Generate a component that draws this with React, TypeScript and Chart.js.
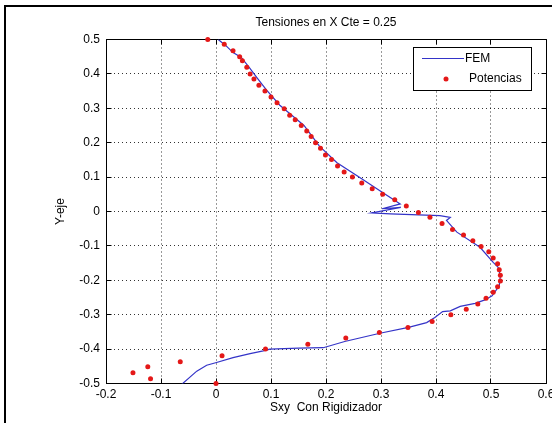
import { useEffect, useRef } from "react";
import { Chart, registerables } from "chart.js";

Chart.register(...registerables);

const TITLE = "Tensiones en X Cte = 0.25";
const X_TITLE = "Sxy  Con Rigidizador";
const Y_TITLE = "Y-eje";

const X_TICKS = [-0.2, -0.1, 0, 0.1, 0.2, 0.3, 0.4, 0.5, 0.6];
const Y_TICKS = [-0.5, -0.4, -0.3, -0.2, -0.1, 0, 0.1, 0.2, 0.3, 0.4, 0.5];

const FEM_X = [
  0.004, 0.018, 0.031, 0.046, 0.06, 0.075, 0.092, 0.116, 0.134, 0.16, 0.188, 0.22, 0.26,
  0.298, 0.335, 0.302, 0.336, 0.283, 0.317, 0.407, 0.426, 0.419, 0.438, 0.48, 0.504,
  0.513, 0.517, 0.515, 0.502, 0.489, 0.471, 0.444, 0.426, 0.412, 0.398, 0.383, 0.35,
  0.298, 0.234, 0.195, 0.15, 0.098, 0.086, 0.062, 0.031, 0.001, -0.017, -0.035, -0.062,
];
const FEM_Y = [
  0.5, 0.482, 0.462, 0.448, 0.42, 0.388, 0.353, 0.309, 0.285, 0.25, 0.19, 0.142, 0.1,
  0.06, 0.022, 0.008, 0.012, -0.004, -0.007, -0.012, -0.017, -0.026, -0.06, -0.104, -0.148,
  -0.162, -0.187, -0.216, -0.245, -0.257, -0.267, -0.276, -0.289, -0.291, -0.308, -0.323, -0.337,
  -0.354, -0.378, -0.396, -0.397, -0.4, -0.405, -0.413, -0.425, -0.439, -0.447, -0.464, -0.502,
];

const POT_X = [
  -0.015, 0.015, 0.031, 0.043, 0.048, 0.056, 0.062, 0.069, 0.078, 0.089, 0.1, 0.111, 0.124,
  0.134, 0.144, 0.155, 0.165, 0.173, 0.181, 0.19, 0.199, 0.21, 0.221, 0.233, 0.248, 0.265,
  0.284, 0.303, 0.325, 0.346, 0.368, 0.389, 0.411, 0.43, 0.45, 0.467, 0.482, 0.496, 0.504,
  0.512, 0.515, 0.517, 0.517, 0.512, 0.504, 0.491, 0.476, 0.455, 0.427, 0.393, 0.349, 0.297,
  0.236, 0.167, 0.09, 0.011, 0.0, -0.065, -0.119, -0.124, -0.151,
];
const POT_Y = [
  0.5, 0.486, 0.467, 0.45, 0.438, 0.419, 0.4, 0.385, 0.367, 0.35, 0.333, 0.316, 0.299,
  0.28, 0.267, 0.25, 0.234, 0.218, 0.2, 0.184, 0.164, 0.151, 0.132, 0.115, 0.1, 0.083,
  0.066, 0.05, 0.034, 0.016, -0.003, -0.017, -0.035, -0.052, -0.068, -0.085, -0.102, -0.117, -0.135,
  -0.152, -0.169, -0.185, -0.202, -0.219, -0.235, -0.252, -0.269, -0.284, -0.3, -0.32, -0.337, -0.352,
  -0.368, -0.386, -0.4, -0.419, -0.5, -0.437, -0.486, -0.451, -0.469,
];

const FONT = "'Liberation Sans', Arial, Helvetica, sans-serif";
const BLUE = "#3434c8";
const RED = "#e41818";

const fmt = (v: number) => String(Math.round(v * 10) / 10);
const align = (p: number) => Math.round(p - 0.5) + 0.5;

const framePlugin = {
  id: "frame",
  beforeDatasetsDraw(chart: any) {
    const { ctx, chartArea, scales } = chart;
    const L = align(chartArea.left);
    const R = align(chartArea.right);
    const T = align(chartArea.top);
    const B = align(chartArea.bottom);
    ctx.save();
    ctx.strokeStyle = "#000";
    ctx.lineWidth = 1;
    ctx.setLineDash([]);
    ctx.beginPath();
    ctx.rect(L, T, R - L, B - T);
    const tl = 5;
    for (const v of X_TICKS) {
      const px = align(scales.x.getPixelForValue(v));
      ctx.moveTo(px, B);
      ctx.lineTo(px, B - tl);
      ctx.moveTo(px, T);
      ctx.lineTo(px, T + tl);
    }
    for (const v of Y_TICKS) {
      const py = align(scales.y.getPixelForValue(v));
      ctx.moveTo(L, py);
      ctx.lineTo(L + tl, py);
      ctx.moveTo(R, py);
      ctx.lineTo(R - tl, py);
    }
    ctx.stroke();
    ctx.restore();
  },
  afterDraw(chart: any) {
    const { ctx } = chart;
    const ds = chart.data.datasets;
    ctx.save();
    ctx.fillStyle = "#fff";
    ctx.strokeStyle = "#000";
    ctx.lineWidth = 1;
    ctx.fillRect(413.5, 47.5, 118, 43);
    ctx.strokeRect(413.5, 47.5, 118, 43);
    ctx.strokeStyle = ds[0].borderColor;
    ctx.lineWidth = 1.2;
    ctx.beginPath();
    ctx.moveTo(422, 58.5);
    ctx.lineTo(464, 58.5);
    ctx.stroke();
    ctx.fillStyle = ds[1].backgroundColor;
    ctx.beginPath();
    ctx.arc(446, 79, 2.5, 0, Math.PI * 2);
    ctx.fill();
    ctx.fillStyle = "#000";
    ctx.font = `12px ${FONT}`;
    ctx.textBaseline = "middle";
    ctx.textAlign = "left";
    ctx.fillText(ds[0].label, 465, 59);
    ctx.fillText(ds[1].label, 469, 79);
    ctx.restore();
  },
};

export default function App() {
  const ref = useRef<HTMLCanvasElement>(null);
  useEffect(() => {
    const canvas = ref.current;
    if (!canvas) return;
    Chart.defaults.font.family = FONT;
    Chart.defaults.font.size = 12;
    Chart.defaults.color = "#000";
    const chart = new Chart(canvas, {
      type: "scatter",
      data: {
        datasets: [
          {
            label: "FEM",
            data: FEM_X.map((x, i) => ({ x, y: FEM_Y[i] })),
            showLine: true,
            borderColor: BLUE,
            backgroundColor: BLUE,
            borderWidth: 1.2,
            pointRadius: 0,
            tension: 0,
            order: 2,
          },
          {
            label: "Potencias",
            data: POT_X.map((x, i) => ({ x, y: POT_Y[i] })),
            showLine: false,
            borderColor: RED,
            backgroundColor: RED,
            borderWidth: 0,
            pointRadius: 2.5,
            pointStyle: "circle",
            clip: false as any,
            order: 1,
          },
        ],
      },
      options: {
        responsive: false,
        maintainAspectRatio: false,
        devicePixelRatio: 1,
        animation: false,
        layout: { padding: { left: 0, right: 6, top: 0, bottom: 0 } },
        plugins: {
          legend: { display: false },
          tooltip: { enabled: false },
          title: {
            display: true,
            text: TITLE,
            fullSize: false,
            color: "#000",
            font: { size: 12, weight: "normal", family: FONT },
            padding: { top: 15, bottom: 10.1 },
          },
        },
        scales: {
          x: {
            type: "linear",
            min: -0.2,
            max: 0.6,
            afterBuildTicks: (s: any) => {
              s.ticks = X_TICKS.map((v) => ({ value: v }));
            },
            afterFit: (s: any) => {
              s.height = 39.5;
              s.paddingLeft = 0;
              s.paddingRight = 0;
            },
            ticks: {
              callback: (v: any) => fmt(Number(v)),
              padding: 4,
              maxRotation: 0,
              autoSkip: false,
              color: "#000",
              font: { size: 12, family: FONT },
            },
            grid: { color: "rgba(0,0,0,0.8)", lineWidth: 1, drawTicks: false },
            border: { display: false, dash: [1, 3] },
            title: {
              display: true,
              text: X_TITLE,
              color: "#000",
              font: { size: 12, family: FONT },
              padding: { top: 0, bottom: 7.8 },
            },
          },
          y: {
            type: "linear",
            min: -0.5,
            max: 0.5,
            afterBuildTicks: (s: any) => {
              s.ticks = Y_TICKS.map((v) => ({ value: v }));
            },
            afterFit: (s: any) => {
              s.width = 106;
              s.paddingTop = 0;
              s.paddingBottom = 0;
            },
            ticks: {
              callback: (v: any) => fmt(Number(v)),
              padding: 6,
              autoSkip: false,
              color: "#000",
              font: { size: 12, family: FONT },
            },
            grid: { color: "rgba(0,0,0,0.8)", lineWidth: 1, drawTicks: false },
            border: { display: false, dash: [1, 3] },
            title: {
              display: true,
              text: Y_TITLE,
              color: "#000",
              font: { size: 12, family: FONT },
              padding: { top: 53.5, bottom: 0 },
            },
          },
        },
      },
      plugins: [framePlugin],
    } as any);
    return () => chart.destroy();
  }, []);

  return (
    <div
      style={{
        position: "absolute",
        left: 0,
        top: 0,
        width: 552,
        height: 423,
        background: "#fff",
        overflow: "hidden",
      }}
    >
      <canvas ref={ref} width={552} height={423} style={{ display: "block", width: 552, height: 423 }} />
      <div
        style={{
          position: "absolute",
          left: 4,
          top: 5,
          right: 0,
          bottom: 0,
          borderLeft: "2px solid #000",
          borderTop: "2px solid #000",
          pointerEvents: "none",
        }}
      />
    </div>
  );
}
